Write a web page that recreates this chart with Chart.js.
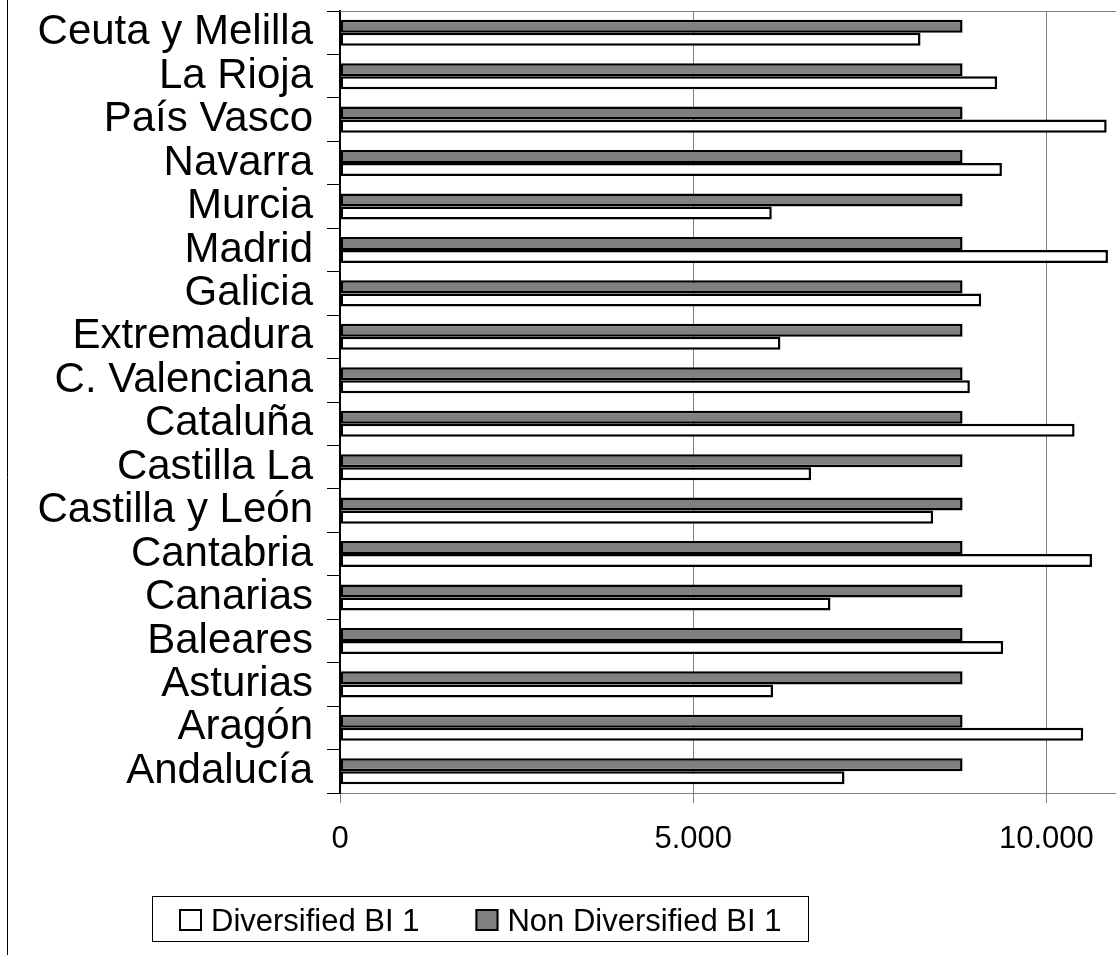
<!DOCTYPE html>
<html>
<head>
<meta charset="utf-8">
<script src="https://cdn.jsdelivr.net/npm/chart.js@4/dist/chart.umd.min.js"></script>
<style>
    html, body { margin: 0; padding: 0; background: #fff; overflow: hidden; }
    #wrap { width: 1116px; height: 955px; position: relative; }
</style>
</head>
<body>
<div id="wrap"><canvas id="regionChart"></canvas></div>
<script>
// categories from top to bottom, as shown in the picture
const regions = [
    "Ceuta y Melilla", "La Rioja", "País Vasco", "Navarra", "Murcia", "Madrid",
    "Galicia", "Extremadura", "C. Valenciana", "Cataluña", "Castilla La",
    "Castilla y León", "Cantabria", "Canarias", "Baleares", "Asturias",
    "Aragón", "Andalucía"
];
const diversified = [
    8218, 9303, 10853, 9370, 6112, 10871,
    9077, 6235, 8916, 10399, 6669,
    8397, 10645, 6943, 9388, 6130,
    10521, 7142
];
const nonDiversified = [
    8813, 8813, 8813, 8813, 8813, 8813,
    8813, 8813, 8813, 8813, 8813,
    8813, 8813, 8813, 8813, 8813,
    8813, 8813
];
const xTicks = [0, 5000, 10000];

const FONT = "'Liberation Sans', Arial, sans-serif";

function fmt(v) {
    return String(v).replace(/\B(?=(\d{3})+(?!\d))/g, ".");
}

// frame lines: outer left edge of the chart box and the top edge of the plot
const framePlugin = {
    id: "frame",
    afterDraw(chart) {
        const ctx = chart.ctx;
        const a = chart.chartArea;
        ctx.save();
        ctx.strokeStyle = "#808080";
        ctx.lineWidth = 1;
        ctx.beginPath();
        ctx.moveTo(a.left, a.top + 0.5);
        ctx.lineTo(a.right, a.top + 0.5);
        ctx.stroke();
        ctx.strokeStyle = "#000";
        ctx.beginPath();
        ctx.moveTo(7.5, 0);
        ctx.lineTo(7.5, chart.height);
        ctx.stroke();
        ctx.restore();
    }
};

// boxed legend, Diversified first
const boxLegend = {
    id: "boxLegend",
    afterDraw(chart) {
        const ctx = chart.ctx;
        const box = { x: 152.5, y: 896.5, w: 656, h: 45 };
        ctx.save();
        ctx.strokeStyle = "#000";
        ctx.lineWidth = 1;
        ctx.strokeRect(box.x, box.y, box.w, box.h);
        ctx.font = "31px " + FONT;
        ctx.textBaseline = "alphabetic";
        let x = 179;
        const order = chart.data.datasets.map((d, i) => i).reverse();
        order.forEach(i => {
            const ds = chart.data.datasets[i];
            ctx.fillStyle = ds.backgroundColor;
            ctx.fillRect(x, 909, 23, 22);
            ctx.strokeStyle = "#000";
            ctx.lineWidth = 2;
            ctx.strokeRect(x + 1, 910, 21, 20);
            ctx.fillStyle = "#000";
            ctx.fillText(ds.label, x + 32, 931);
            x += 32 + ctx.measureText(ds.label).width + 56;
        });
        ctx.restore();
    }
};

new Chart(document.getElementById("regionChart"), {
    type: "bar",
    data: {
        labels: regions,
        datasets: [{
            label: "Non Diversified BI 1",
            data: nonDiversified,
            backgroundColor: "#808080",
            borderColor: "#000",
            borderWidth: 2.5,
            borderSkipped: false
        }, {
            label: "Diversified BI 1",
            data: diversified,
            backgroundColor: "#ffffff",
            borderColor: "#000",
            borderWidth: 2.5,
            borderSkipped: false
        }]
    },
    options: {
        indexAxis: "y",
        responsive: true,
        maintainAspectRatio: false,
        animation: false,
        categoryPercentage: 0.6,
        barPercentage: 1,
        layout: { padding: { top: 11, left: 0, right: 0, bottom: 0 } },
        plugins: {
            legend: { display: false },
            tooltip: { enabled: false }
        },
        scales: {
            x: {
                min: 0,
                max: 10985,
                afterBuildTicks(scale) {
                    scale.ticks = xTicks.map(v => ({ value: v }));
                },
                afterFit(scale) {
                    scale.height = 162;
                    scale.paddingLeft = 0;
                    scale.paddingRight = 0;
                },
                grid: { color: "#808080", lineWidth: 1, tickLength: 10 },
                border: { color: "#808080", width: 1 },
                ticks: {
                    padding: 18,
                    color: "#000",
                    font: { family: FONT, size: 31 },
                    callback: v => fmt(v)
                }
            },
            y: {
                afterFit(scale) {
                    scale.width = 340;
                    scale.paddingTop = 0;
                    scale.paddingBottom = 0;
                },
                grid: { drawOnChartArea: false, color: "#000", tickLength: 13, offset: true },
                border: { color: "#000", width: 2 },
                ticks: {
                    autoSkip: false,
                    padding: 14,
                    color: "#000",
                    font: { family: FONT, size: 42 }
                }
            }
        }
    },
    plugins: [framePlugin, boxLegend]
});
</script>
</body>
</html>
